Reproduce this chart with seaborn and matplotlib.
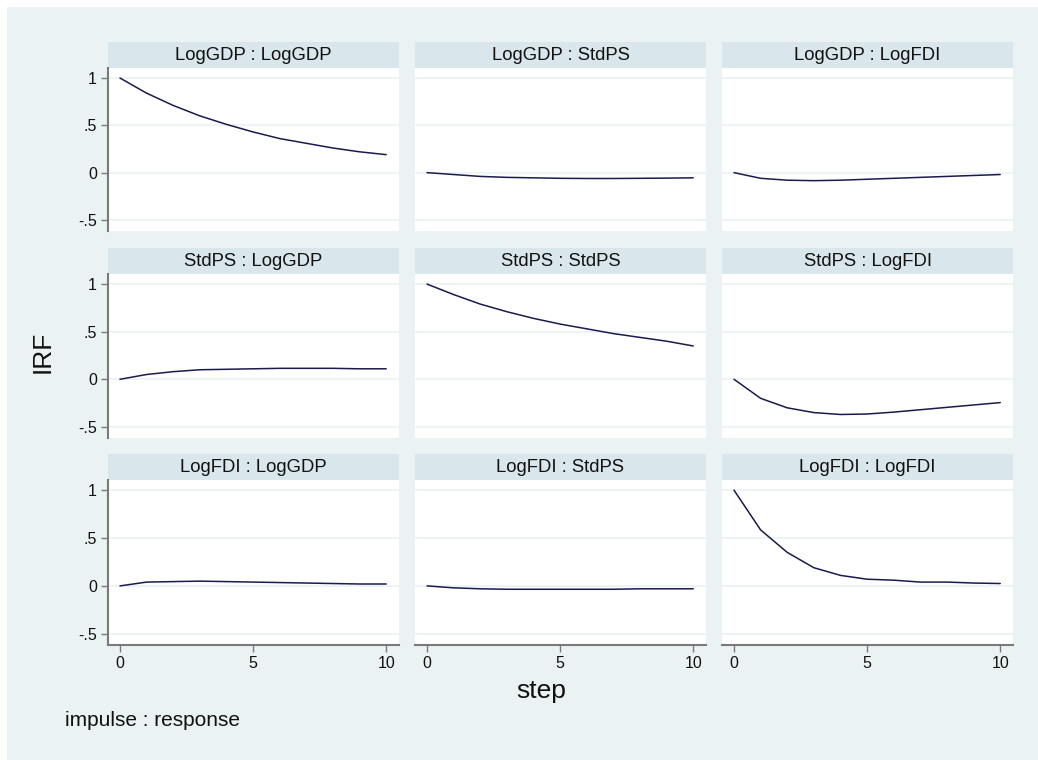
import seaborn as sns
import matplotlib.pyplot as plt
from matplotlib.patches import Rectangle
import pandas as pd

# --------------------------------------------------
# IRF values (steps 0..10)
# --------------------------------------------------
steps = list(range(11))
variables = ["LogGDP", "StdPS", "LogFDI"]

gdp_gdp = [1.0, 0.84, 0.71, 0.60, 0.51, 0.43, 0.36, 0.31, 0.26, 0.22, 0.19]
gdp_ps = [0.0, -0.02, -0.04, -0.05, -0.055, -0.06, -0.062, -0.062, -0.06, -0.058, -0.055]
gdp_fdi = [0.0, -0.06, -0.08, -0.085, -0.08, -0.07, -0.06, -0.05, -0.04, -0.03, -0.02]
ps_gdp = [0.0, 0.05, 0.08, 0.10, 0.105, 0.11, 0.115, 0.115, 0.115, 0.11, 0.11]
ps_ps = [1.0, 0.89, 0.79, 0.71, 0.64, 0.58, 0.53, 0.48, 0.44, 0.40, 0.35]
ps_fdi = [0.0, -0.20, -0.30, -0.35, -0.37, -0.365, -0.345, -0.32, -0.295, -0.27, -0.245]
fdi_gdp = [0.0, 0.04, 0.045, 0.05, 0.045, 0.04, 0.035, 0.03, 0.025, 0.02, 0.02]
fdi_ps = [0.0, -0.02, -0.03, -0.035, -0.035, -0.035, -0.035, -0.035, -0.03, -0.03, -0.03]
fdi_fdi = [1.0, 0.585, 0.35, 0.19, 0.11, 0.07, 0.06, 0.04, 0.04, 0.03, 0.025]

series = {
    ("LogGDP", "LogGDP"): gdp_gdp, ("LogGDP", "StdPS"): gdp_ps, ("LogGDP", "LogFDI"): gdp_fdi,
    ("StdPS", "LogGDP"): ps_gdp, ("StdPS", "StdPS"): ps_ps, ("StdPS", "LogFDI"): ps_fdi,
    ("LogFDI", "LogGDP"): fdi_gdp, ("LogFDI", "StdPS"): fdi_ps, ("LogFDI", "LogFDI"): fdi_fdi,
}

rows = []
for (imp, resp), vals in series.items():
    for s, v in zip(steps, vals):
        rows.append({"impulse": imp, "response": resp, "step": s, "irf": v})
df = pd.DataFrame(rows)

# --------------------------------------------------
# Stata-like styling
# --------------------------------------------------
BG = "#EAF2F3"
STRIP = "#D9E6EB"
LINE = "#1A1A4E"
AXIS = "#7A7A7A"

sns.set_style("white")
plt.rcParams["font.family"] = ["Liberation Sans", "DejaVu Sans"]

g = sns.FacetGrid(df, row="impulse", col="response", row_order=variables,
                  col_order=variables, sharex=True, sharey=True)
g.map_dataframe(sns.lineplot, x="step", y="irf", color=LINE, linewidth=1.1)

fig = g.figure
fig.set_size_inches(10.38, 7.6)
fig.set_dpi(100)
fig.patch.set_facecolor("white")

W, H = 1038.0, 760.0
# background panel (white margin top/left)
fig.patches.append(Rectangle((7 / W, 0), 1, 1 - 7 / H, transform=fig.transFigure,
                             facecolor=BG, edgecolor="none", zorder=-10))

col_x = [(108, 399), (415, 706), (722, 1013)]
row_y = [(68, 231), (274, 438), (480, 645)]
strip_h = 26

for i, imp in enumerate(variables):
    for j, resp in enumerate(variables):
        ax = g.axes[i, j]
        x0, x1 = col_x[j]
        y0, y1 = row_y[i]
        ax.set_position([x0 / W, 1 - y1 / H, (x1 - x0) / W, (y1 - y0) / H])
        ax.set_facecolor("white")
        ax.set_xlim(-0.45, 10.48)
        ax.set_ylim(-0.617, 1.106)
        ax.set_yticks([-0.5, 0, 0.5, 1])
        ax.set_xticks([0, 5, 10])
        ax.yaxis.grid(True, color=BG, linewidth=1.2)
        ax.set_axisbelow(True)
        ax.set_title("")
        ax.set_xlabel("")
        ax.set_ylabel("")
        for side in ["top", "right", "left", "bottom"]:
            ax.spines[side].set_visible(False)

        # strip header
        sh = strip_h / (y1 - y0)
        ax.add_patch(Rectangle((0, 1), 1, sh, transform=ax.transAxes,
                               facecolor=STRIP, edgecolor="none", clip_on=False))
        ax.text(0.5, 1 + sh / 2, f"{imp} : {resp}", transform=ax.transAxes,
                ha="center", va="center", fontsize=13.3, color="#111111")

        if j == 0:
            ax.spines["left"].set_visible(True)
            ax.spines["left"].set_color(AXIS)
            ax.spines["left"].set_linewidth(1.5)
            ax.set_yticklabels(["-.5", "0", ".5", "1"])
            ax.tick_params(axis="y", left=True, length=5, width=1, color=AXIS,
                           labelsize=11.5, pad=3, labelcolor="#111111")
        else:
            ax.tick_params(axis="y", left=False, labelleft=False)

        if i == 2:
            ax.spines["bottom"].set_visible(True)
            ax.spines["bottom"].set_color(AXIS)
            ax.spines["bottom"].set_linewidth(1.5)
            ax.set_xticklabels(["0", "5", "10"])
            ax.tick_params(axis="x", bottom=True, length=5, width=1, color=AXIS,
                           labelsize=11.5, pad=3, labelcolor="#111111")
        else:
            ax.tick_params(axis="x", bottom=False, labelbottom=False)

fig.text(43 / W, 1 - 352 / H, "IRF", rotation=90, ha="center", va="center",
         fontsize=19, color="#111111")
fig.text(541 / W, 1 - 691 / H, "step", ha="center", va="center",
         fontsize=19, color="#111111")
fig.text(65 / W, 1 - 721 / H, "impulse : response", ha="left", va="center",
         fontsize=15, color="#111111")

fig.savefig("out.png", dpi=100, facecolor=fig.get_facecolor())
